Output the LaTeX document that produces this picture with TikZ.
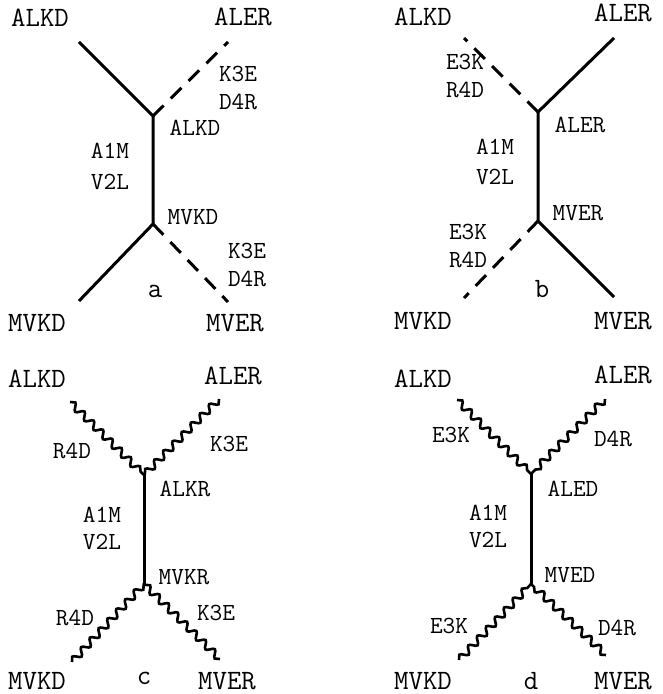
\documentclass[tikz,border=0pt]{standalone}
\usetikzlibrary{decorations.pathmorphing}
\tikzset{
  endlbl/.style={font=\fontsize{14}{16}\selectfont\ttfamily, inner sep=1pt},
  sitelbl/.style={font=\fontsize{12.3}{14}\selectfont\ttfamily},
  bond/.style={line width=1.5pt},
  broken/.style={line width=1.5pt, dash pattern=on 7.5pt off 5pt},
  wavy/.style={line width=1.3pt, decorate, decoration={snake, amplitude=1.7pt, segment length=6.5pt}},
}
\begin{document}
\begin{tikzpicture}[x=0.5pt, y=-0.5pt, line cap=butt]
    \useasboundingbox (0,0) rectangle (662,694);
    % panel a
    \coordinate (aTL) at (79,42);
    \coordinate (aTR) at (228,42);
    \coordinate (aJT) at (153,116);
    \coordinate (aJB) at (153,224);
    \coordinate (aBL) at (79,301);
    \coordinate (aBR) at (228,302);
    \draw[bond] (aTL) -- (aJT) -- (aJB) -- (aBL);
    \draw[broken] (aJT) -- (aTR);
    \draw[broken] (aJB) -- (aBR);
    \node[endlbl] (aLTL) at (40,18) {ALKD};
    \node[endlbl] (aLTR) at (243,17) {ALER};
    \node[endlbl] (aLBL) at (37,323) {MVKD};
    \node[endlbl] (aLBR) at (235,323) {MVER};
    \node[sitelbl, align=left] (aM1) at (238,88) {K3E\\D4R};
    \node[sitelbl, align=left] (aM2) at (247,265) {K3E\\D4R};
    \node[sitelbl] (aNT) at (195,128) {ALKD};
    \node[sitelbl] (aNB) at (193,217) {MVKD};
    \node[sitelbl] (aA) at (110,151) {A1M};
    \node[sitelbl] (aV) at (110,182) {V2L};
    \node[endlbl] (aTag) at (155,291) {a};
    % panel b
    \coordinate (bTL) at (464,38);
    \coordinate (bTR) at (614,38);
    \coordinate (bJT) at (538,112);
    \coordinate (bJB) at (538,221);
    \coordinate (bBL) at (464,298);
    \coordinate (bBR) at (614,297);
    \draw[bond] (bTR) -- (bJT) -- (bJB) -- (bBR);
    \draw[broken] (bJT) -- (bTL);
    \draw[broken] (bJB) -- (bBL);
    \node[endlbl] (bLTL) at (423,17) {ALKD};
    \node[endlbl] (bLTR) at (623,13) {ALER};
    \node[endlbl] (bLBL) at (423,321) {MVKD};
    \node[endlbl] (bLBR) at (623,321) {MVER};
    \node[sitelbl, align=left] (bM1) at (465,76) {E3K\\R4D};
    \node[sitelbl, align=left] (bM2) at (468,246) {E3K\\R4D};
    \node[sitelbl] (bNT) at (580,125) {ALER};
    \node[sitelbl] (bNB) at (578,213) {MVER};
    \node[sitelbl] (bA) at (495,147) {A1M};
    \node[sitelbl] (bV) at (495,177) {V2L};
    \node[endlbl] (bTag) at (542,289) {b};
    % panel c
    \coordinate (cTL) at (70,402);
    \coordinate (cTR) at (219,399);
    \coordinate (cJT) at (144,475);
    \coordinate (cJB) at (144,584);
    \coordinate (cBL) at (72,662);
    \coordinate (cBR) at (220,659);
    \draw[bond] (cJT) -- (cJB);
    \draw[wavy] (cTL) -- (cJT);
    \draw[wavy] (cTR) -- (cJT);
    \draw[wavy] (cBL) -- (cJB);
    \draw[wavy] (cBR) -- (cJB);
    \node[endlbl] (cLTL) at (37,379) {ALKD};
    \node[endlbl] (cLTR) at (233,376) {ALER};
    \node[endlbl] (cLBL) at (37,681) {MVKD};
    \node[endlbl] (cLBR) at (227,681) {MVER};
    \node[sitelbl] (cM1) at (72,451) {R4D};
    \node[sitelbl] (cM2) at (229,444) {K3E};
    \node[sitelbl] (cM3) at (75,618) {R4D};
    \node[sitelbl] (cM4) at (216,613) {K3E};
    \node[sitelbl] (cNT) at (185,489) {ALKR};
    \node[sitelbl] (cNB) at (184,577) {MVKR};
    \node[sitelbl] (cA) at (102,515) {A1M};
    \node[sitelbl] (cV) at (102,542) {V2L};
    \node[endlbl] (cTag) at (144,678) {c};
    % panel d
    \coordinate (dTL) at (457,400);
    \coordinate (dTR) at (605,399);
    \coordinate (dJT) at (531,474);
    \coordinate (dJB) at (531,584);
    \coordinate (dBL) at (459,660);
    \coordinate (dBR) at (606,655);
    \draw[bond] (dJT) -- (dJB);
    \draw[wavy] (dTL) -- (dJT);
    \draw[wavy] (dTR) -- (dJT);
    \draw[wavy] (dBL) -- (dJB);
    \draw[wavy] (dBR) -- (dJB);
    \node[endlbl] (dLTL) at (423,379) {ALKD};
    \node[endlbl] (dLTR) at (623,375) {ALER};
    \node[endlbl] (dLBL) at (423,681) {MVKD};
    \node[endlbl] (dLBR) at (623,681) {MVER};
    \node[sitelbl] (dM1) at (451,435) {E3K};
    \node[sitelbl] (dM2) at (613,439) {D4R};
    \node[sitelbl] (dM3) at (449,626) {E3K};
    \node[sitelbl] (dM4) at (617,628) {D4R};
    \node[sitelbl] (dNT) at (573,489) {ALED};
    \node[sitelbl] (dNB) at (570,575) {MVED};
    \node[sitelbl] (dA) at (488,513) {A1M};
    \node[sitelbl] (dV) at (488,540) {V2L};
    \node[endlbl] (dTag) at (531,681) {d};
\end{tikzpicture}
\end{document}
